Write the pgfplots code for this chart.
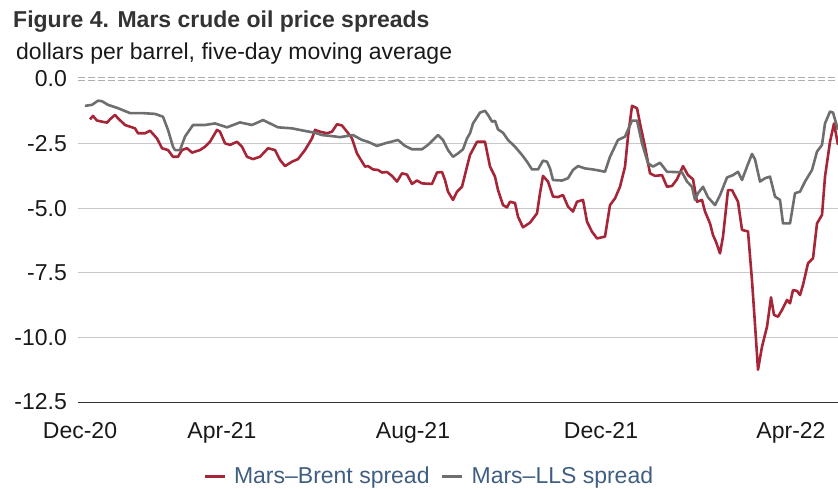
\documentclass[border=0pt]{standalone}
\usepackage{fontspec}
\setmainfont{Liberation Sans}
\usepackage{pgfplots}
\pgfplotsset{compat=1.18}
\definecolor{marsred}{RGB}{166,38,56}
\definecolor{marsgray}{RGB}{110,110,110}
\definecolor{gridgray}{RGB}{200,200,200}
\definecolor{zerogray}{RGB}{175,175,175}
\definecolor{legblue}{RGB}{64,94,130}
\definecolor{titlegray}{RGB}{51,51,51}
\definecolor{labelblack}{RGB}{25,25,25}
\begin{document}
\begin{tikzpicture}
\useasboundingbox (0bp,0bp) rectangle (838bp,489bp);
\node[anchor=base west, inner sep=0pt, font=\fontsize{23bp}{27bp}\selectfont\bfseries, text=titlegray] at (13bp,461bp) {Figure 4. Mars crude oil price spreads};
\node[anchor=base west, inner sep=0pt, font=\fontsize{23bp}{27bp}\selectfont, text=labelblack] at (16bp,429bp) {dollars per barrel, five-day moving average};
\begin{axis}[
  at={(77.5bp,87bp)}, anchor=south west,
  width=760.5bp, height=323bp, scale only axis,
  xmin=77.5, xmax=838, ymin=-12.5, ymax=0,
  axis line style={draw=none},
  major tick length=0pt,
  xtick={80,222,413,601,791},
  xticklabels={Dec-20,Apr-21,Aug-21,Dec-21,Apr-22},
  ytick={-12.5,-10,-7.5,-5,-2.5,0},
  yticklabels={-12.5,-10.0,-7.5,-5.0,-2.5,0.0},
  ticklabel style={font=\fontsize{23bp}{27bp}\selectfont, text=labelblack, inner sep=0pt},
  yticklabel style={anchor=east, xshift=-10.5bp},
  xticklabel style={anchor=base, yshift=-36bp},
  clip=false,
  legend columns=2,
  legend style={draw=none, fill=none, inner sep=0pt,
    at={(axis description cs:0.461,-0.258)}, anchor=south,
    font=\fontsize{23bp}{27bp}\selectfont, text=legblue,
    nodes={inner sep=0pt},
    /tikz/every odd column/.append style={column sep=8bp},
    /tikz/every even column/.append style={column sep=11bp}},
  legend image code/.code={\draw[#1, line width=3bp, line cap=butt] (0bp,0bp) -- (20bp,0bp);},
]
\draw[gridgray, line width=1.2bp] (axis cs:77.5,-2.5) -- (axis cs:838,-2.5);
\draw[gridgray, line width=1.2bp] (axis cs:77.5,-5) -- (axis cs:838,-5);
\draw[gridgray, line width=1.2bp] (axis cs:77.5,-7.5) -- (axis cs:838,-7.5);
\draw[gridgray, line width=1.2bp] (axis cs:77.5,-10) -- (axis cs:838,-10);
\draw[black!80, line width=1bp] (axis cs:77.5,-12.5) -- (axis cs:838,-12.5);
\draw[zerogray, line width=1bp, dash pattern=on 7bp off 3bp] ([yshift=1.6bp]axis cs:77.5,0) -- ([yshift=1.6bp]axis cs:838,0);
\draw[zerogray, line width=1bp, dash pattern=on 7bp off 3bp] ([yshift=-1.6bp]axis cs:77.5,0) -- ([yshift=-1.6bp]axis cs:838,0);

\addplot[marsred, line width=2.6bp, line join=round] coordinates {
(90,-1.56) (93,-1.43) (97,-1.61) (107,-1.69) (110,-1.56) (115,-1.39) (118,-1.52)
(125,-1.78) (135,-1.91) (138,-2.10) (145,-2.10) (150,-2.00) (157,-2.30) (162,-2.68)
(168,-2.75) (173,-3.01) (178,-3.01) (182,-2.75) (187,-2.68) (192,-2.85) (200,-2.75)
(205,-2.62) (210,-2.43) (217,-1.97) (220,-2.04) (225,-2.49) (230,-2.55) (237,-2.43)
(242,-2.62) (247,-3.01) (253,-3.10) (260,-3.01) (268,-2.68) (275,-2.75) (280,-3.13)
(285,-3.37) (292,-3.20) (298,-3.10) (305,-2.75) (312,-2.30) (315,-1.97) (320,-2.04)
(327,-2.10) (332,-2.04) (337,-1.75) (342,-1.80) (347,-2.04) (352,-2.30) (357,-2.88)
(362,-3.20) (365,-3.39) (368,-3.37) (373,-3.50) (378,-3.52) (382,-3.62) (387,-3.60)
(392,-3.75) (397,-3.97) (402,-3.65) (407,-3.70) (412,-4.06) (417,-3.93) (422,-4.04)
(432,-4.06) (437,-3.62) (442,-3.60) (445,-3.91) (448,-4.36) (453,-4.68) (457,-4.36)
(462,-4.17) (467,-3.39) (470,-2.94) (477,-2.43) (485,-2.43) (490,-3.39) (495,-3.78)
(498,-4.30) (503,-4.88) (507,-4.97) (510,-4.75) (515,-4.80) (518,-5.33) (523,-5.74)
(530,-5.56) (537,-5.20) (540,-4.42) (543,-3.75) (548,-3.97) (553,-4.55) (558,-4.57)
(563,-4.49) (568,-4.94) (573,-5.13) (577,-4.75) (583,-4.68) (587,-5.52) (592,-5.91)
(597,-6.17) (605,-6.10) (610,-4.88) (615,-4.62) (620,-4.17) (625,-3.39) (628,-2.23)
(632,-1.04) (637,-1.13) (640,-1.72) (645,-2.62) (650,-3.65) (655,-3.75) (662,-3.72)
(667,-4.17) (672,-4.14) (677,-3.88) (683,-3.37) (688,-3.72) (693,-3.88) (697,-4.75)
(702,-4.68) (705,-5.13) (710,-5.59) (713,-6.04) (716,-6.30) (720,-6.75) (723,-6.10)
(728,-4.30) (732,-4.30) (738,-4.75) (742,-5.84) (748,-5.90) (752,-7.80) (755,-9.50)
(758,-11.25) (762,-10.36) (767,-9.59) (771,-8.45) (774,-9.13) (778,-9.20) (782,-8.94)
(787,-8.55) (790,-8.68) (793,-8.17) (797,-8.20) (800,-8.36) (803,-7.97) (808,-7.13)
(813,-6.94) (817,-5.59) (822,-5.26) (825,-3.78) (830,-2.43) (834,-1.72) (838,-2.55)
};
\addlegendentry{Mars–Brent spread}
\addplot[marsgray, line width=2.6bp, line join=round] coordinates {
(85,-1.04) (92,-1.00) (98,-0.84) (102,-0.86) (108,-1.00) (118,-1.13) (130,-1.32)
(142,-1.32) (155,-1.35) (163,-1.46) (168,-1.97) (173,-2.62) (175,-2.75) (180,-2.75)
(185,-2.23) (193,-1.78) (205,-1.78) (215,-1.72) (227,-1.87) (240,-1.68) (252,-1.78)
(263,-1.59) (270,-1.72) (278,-1.87) (292,-1.91) (305,-2.01) (315,-2.08) (322,-2.17)
(332,-2.21) (340,-2.25) (353,-2.17) (362,-2.36) (368,-2.43) (377,-2.59) (385,-2.49)
(398,-2.36) (405,-2.59) (412,-2.72) (422,-2.72) (428,-2.55) (438,-2.17) (443,-2.36)
(448,-2.75) (453,-3.01) (458,-2.88) (463,-2.72) (467,-2.30) (470,-2.10) (473,-1.72)
(480,-1.30) (485,-1.23) (488,-1.39) (492,-1.65) (495,-1.62) (498,-1.95) (503,-2.08)
(508,-2.36) (515,-2.62) (522,-2.94) (527,-3.20) (532,-3.50) (538,-3.50) (543,-3.16)
(547,-3.20) (550,-3.46) (553,-3.91) (562,-3.93) (568,-3.84) (573,-3.52) (578,-3.37)
(585,-3.46) (593,-3.50) (600,-3.55) (605,-3.59) (610,-3.01) (618,-2.36) (625,-2.23)
(632,-1.61) (637,-1.61) (642,-2.49) (648,-3.26) (653,-3.39) (660,-3.24) (667,-3.59)
(682,-3.61) (687,-3.97) (692,-4.17) (695,-4.68) (698,-4.42) (703,-4.17) (708,-4.58)
(715,-4.88) (720,-4.50) (727,-3.81) (733,-3.72) (738,-3.59) (742,-3.91) (747,-3.39)
(752,-2.90) (755,-3.11) (760,-3.97) (765,-3.84) (770,-3.78) (775,-4.55) (780,-4.68)
(783,-5.59) (790,-5.59) (795,-4.42) (800,-4.36) (805,-3.97) (812,-3.52) (817,-2.81)
(822,-2.55) (825,-1.72) (830,-1.26) (833,-1.30) (838,-1.97)
};
\addlegendentry{Mars–LLS spread}
\end{axis}
\end{tikzpicture}
\end{document}
